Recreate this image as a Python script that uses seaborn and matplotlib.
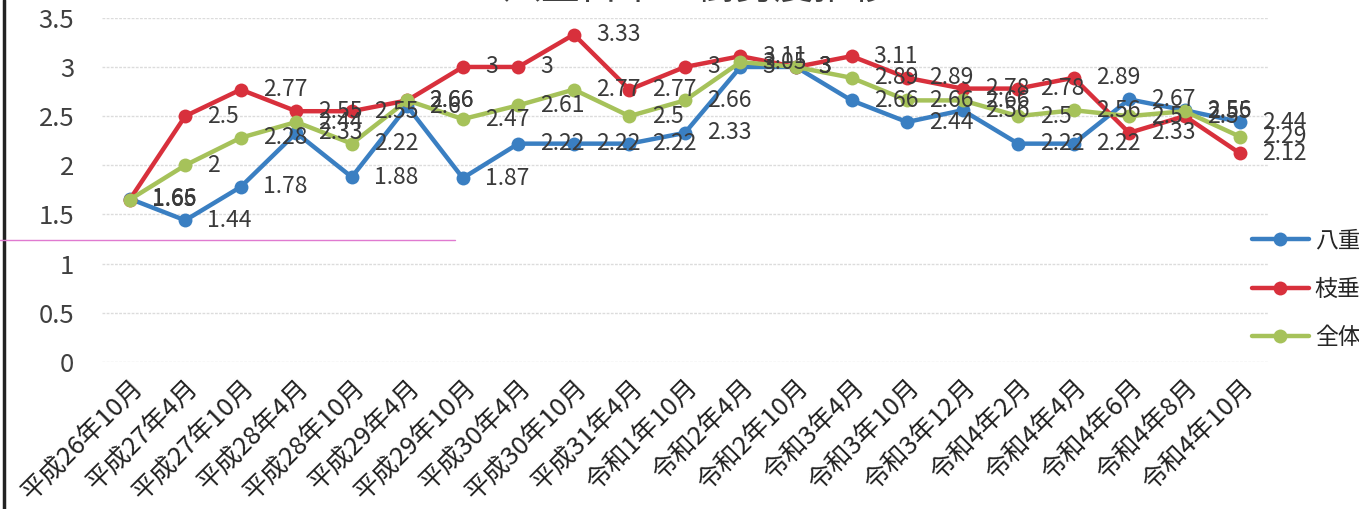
import matplotlib.pyplot as plt
import matplotlib.lines as mlines
import seaborn as sns
import pandas as pd

# 調査時期
periods = ["平成26年10月", "平成27年4月", "平成27年10月", "平成28年4月", "平成28年10月",
           "平成29年4月", "平成29年10月", "平成30年4月", "平成30年10月", "平成31年4月",
           "令和1年10月", "令和2年4月", "令和2年10月", "令和3年4月", "令和3年10月",
           "令和3年12月", "令和4年2月", "令和4年4月", "令和4年6月", "令和4年8月", "令和4年10月"]

# 樹勢度
yae = [1.66, 1.44, 1.78, 2.33, 1.88, 2.6, 1.87, 2.22, 2.22, 2.22, 2.33,
       3, 3, 2.66, 2.44, 2.56, 2.22, 2.22, 2.67, 2.56, 2.44]
shidare = [1.65, 2.5, 2.77, 2.55, 2.55, 2.66, 3, 3, 3.33, 2.77, 3,
           3.11, 3, 3.11, 2.89, 2.78, 2.78, 2.89, 2.33, 2.5, 2.12]
zentai = [1.65, 2, 2.28, 2.44, 2.22, 2.66, 2.47, 2.61, 2.77, 2.5, 2.66,
          3.05, 3, 2.89, 2.66, 2.66, 2.5, 2.56, 2.5, 2.55, 2.29]

series = {"八重": yae, "枝垂": shidare, "全体": zentai}
colors = {"八重": "#3a7fc2", "枝垂": "#d8303c", "全体": "#a6c25a"}

df = pd.DataFrame([
    {"period": p, "pos": i, "series": name, "value": v}
    for name, vals in series.items()
    for i, (p, v) in enumerate(zip(periods, vals))
])

sns.set_style("white")
plt.rcParams['font.family'] = ['Noto Sans CJK JP', 'DejaVu Sans']

fig = plt.figure(figsize=(13.59, 5.09), dpi=100)
ax = fig.add_axes([0.075, 0.289, 0.858, 0.676])

sns.lineplot(data=df, x="pos", y="value", hue="series", palette=colors,
             marker="o", markersize=10, markeredgewidth=0, linewidth=3.2,
             ax=ax, legend=True)

# データラベル
for name, vals in series.items():
    for i, v in enumerate(vals):
        ax.annotate(f"{v:g}", (i, v), xytext=(16, 0), textcoords="offset points",
                    ha="left", va="center", fontsize=16.5, color="#3a3a3a")

ax.set_xlim(-0.5, len(periods) - 0.5)
ax.set_ylim(0, 3.5)
ax.set_yticks([0, 0.5, 1, 1.5, 2, 2.5, 3, 3.5])
ax.set_yticklabels(["0", "0.5", "1", "1.5", "2", "2.5", "3", "3.5"])
ax.set_xticks(range(len(periods)))
ax.set_xticklabels(periods, rotation=45, ha="right", rotation_mode="anchor")
ax.tick_params(axis="y", labelsize=18.5, colors="#404040", length=0, pad=20)
ax.tick_params(axis="x", labelsize=18.5, colors="#222222", length=0, pad=9)
ax.yaxis.grid(True, color="#dcdcdc", linewidth=1, linestyle=(0, (2, 1)))
ax.xaxis.grid(False)
for s in ax.spines.values():
    s.set_visible(False)
ax.set_xlabel("")
ax.set_ylabel("")

ax.legend(loc="center left", bbox_to_anchor=(0.921, 0.432), bbox_transform=fig.transFigure,
          frameon=False, fontsize=16.5, handlelength=2.5, handletextpad=0.25,
          labelspacing=1.1, borderaxespad=0, borderpad=0)

# 上端で切れたタイトル
fig.text(0.513, 0.984, "八重古木の樹勢度推移", ha="center", va="bottom",
         fontsize=28, color="#404040")

# スキャンの縁と線
fig.add_artist(mlines.Line2D([0.003, 0.003], [0, 1], color="#222222", linewidth=2.5))
fig.add_artist(mlines.Line2D([0, 0.335], [0.528, 0.528], color="#e07ad0", linewidth=1))

fig.savefig("out.png", dpi=100)
